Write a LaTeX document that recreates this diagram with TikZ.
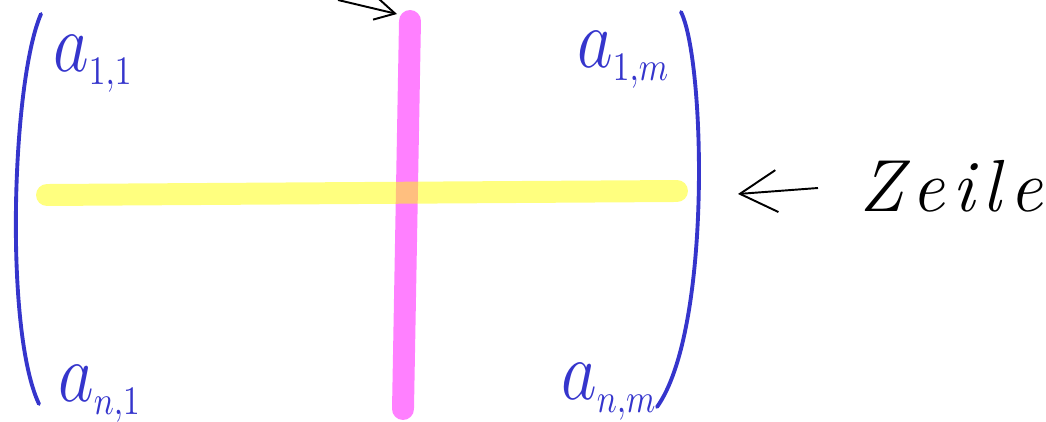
\documentclass[tikz,border=0pt]{standalone}
\usepackage{fontspec}
\usepackage{graphicx}
\usetikzlibrary{arrows.meta,positioning}
\definecolor{pen}{HTML}{3535CC}
\definecolor{colmark}{HTML}{FF80FF}
\definecolor{rowmark}{HTML}{FFFF00}
\definecolor{ink}{HTML}{000000}
\newcommand{\handentry}[2]{\scalebox{1.9}[2.3]{$a_{\scriptscriptstyle #1,#2}$}}

\begin{document}
\begin{tikzpicture}[x=0.02cm, y=-0.02cm,
  entry/.style={anchor=base west, inner sep=0pt, text=pen, font=\fontsize{20}{20}\selectfont},
  paren/.style={draw=pen, line width=2.2pt, line cap=round},
  marker/.style={line width=12.5pt, line cap=round},
  pointer/.style={draw=ink, line width=1.1pt}]
  \useasboundingbox (0,0) rectangle (1046,422);
  % matrix brackets
  \draw[paren] (41,14) .. controls (12,80) and (4,330) .. (39,404);
  \draw[paren] (681,12) .. controls (705,60) and (712,330) .. (657,407);
  % column and row markers
  \coordinate (coltop) at (410,21);
  \coordinate (colbot) at (403,409);
  \coordinate (rowleft) at (47,195);
  \coordinate (rowright) at (677,191);
  \draw[marker, colmark] (coltop) -- (colbot);
  \draw[marker, rowmark, opacity=0.5] (rowleft) -- (rowright);
  % entries
  \node[entry] (a11) at (53,72) {\handentry{1}{1}};
  \node[entry] (a1m) at (577,68) {\handentry{1}{m}};
  \node[entry] (an1) at (58,402) {\handentry{n}{1}};
  \node[entry] (anm) at (561,400) {\handentry{n}{m}};
  % labels
  \node[anchor=base west, inner sep=0pt, font=\fontsize{42}{42}\selectfont\itshape] (zeile) at (859,212) {Z\kern4.5pt e\kern4.5pt i\kern4.5pt l\kern4.5pt e};
  \coordinate (zfrom) at (818,188);
  \coordinate (zto) at (738,194);
  \draw[pointer, -{Straight Barb[length=0.74cm, width=0.84cm]}] (zfrom) -- (zto);
  \coordinate (sfrom) at (338,0);
  \coordinate (sto) at (397,14);
  \draw[pointer, -{Straight Barb[length=0.4cm, width=0.44cm]}] (sfrom) -- (sto);
\end{tikzpicture}
\end{document}
